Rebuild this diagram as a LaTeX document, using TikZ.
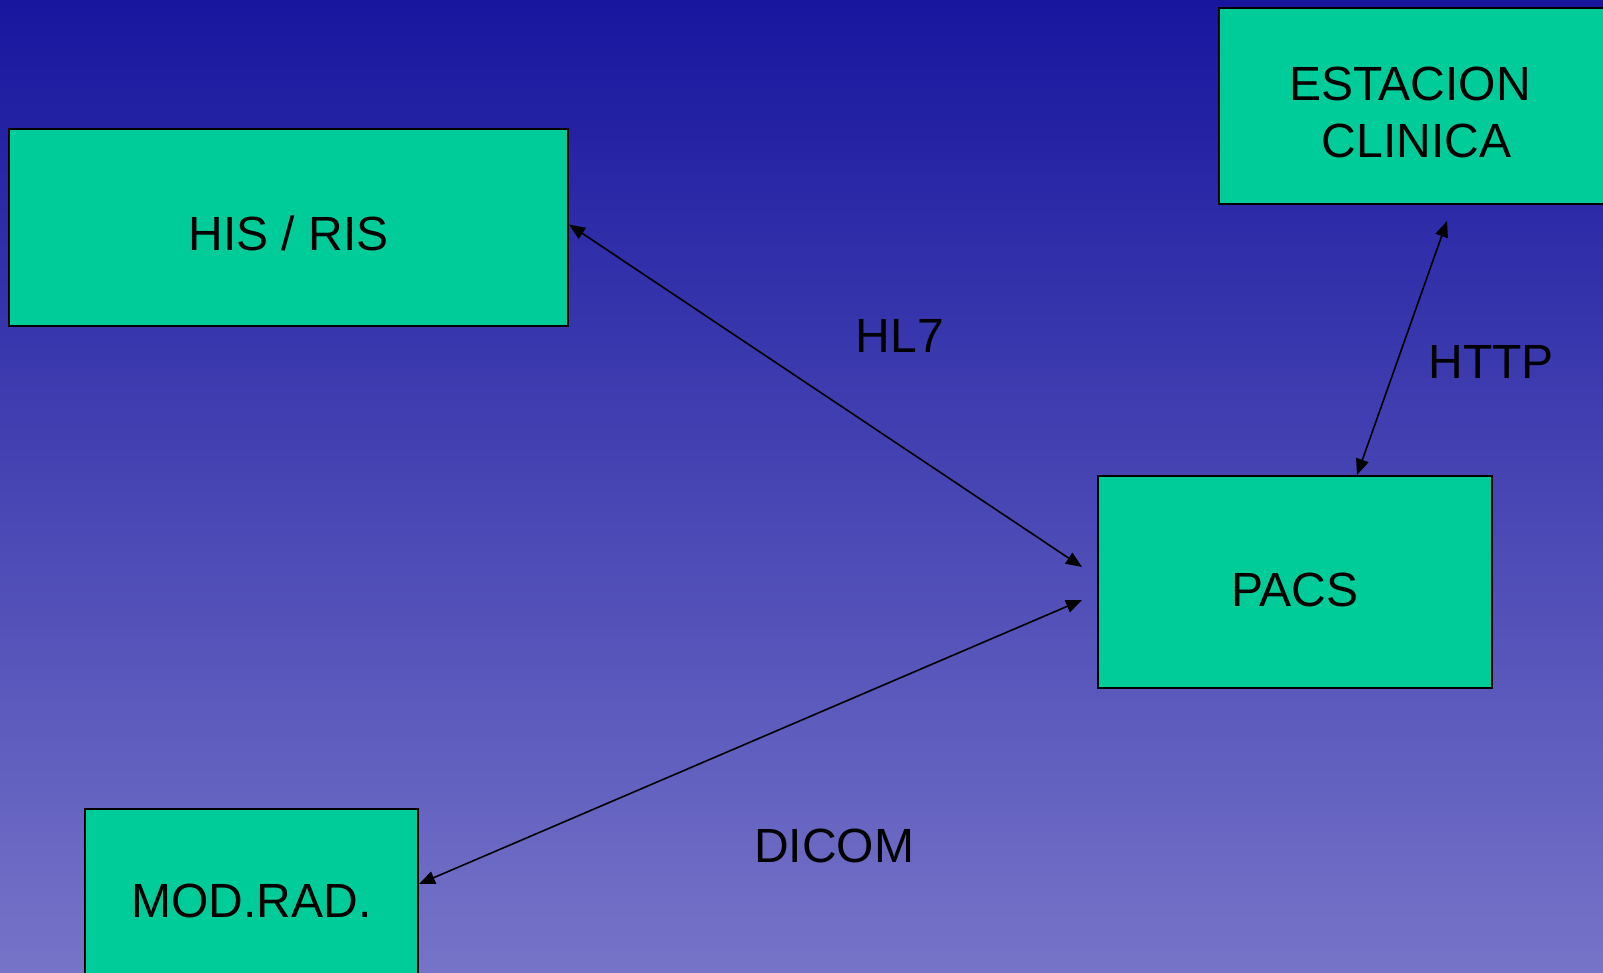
\documentclass[tikz,border=0pt]{standalone}
\usepackage{fontspec}
\setmainfont{Liberation Sans}
\usetikzlibrary{arrows.meta,calc}
\definecolor{bgtop}{RGB}{24,22,158}
\definecolor{bgbot}{RGB}{118,116,200}
\definecolor{boxfill}{RGB}{0,204,153}
\tikzset{
  sysbox/.style={draw=black, line width=1pt, fill=boxfill, inner sep=0pt, align=center,
    font=\fontsize{24}{28.5}\selectfont, text=black, text depth=0pt},
  link/.style={line width=0.8pt, draw=black, {Triangle[length=8pt,width=6.5pt]}-{Triangle[length=8pt,width=6.5pt]}},
  lbl/.style={font=\fontsize{24}{28}\selectfont, text=black, inner sep=0pt}
}
\begin{document}
\begin{tikzpicture}[x=0.5pt,y=-0.5pt]
\useasboundingbox (0,0) rectangle (1603,973);
\clip (0,0) rectangle (1603,973);
\shade[top color=bgtop, bottom color=bgbot] (0,0) rectangle (1603,973);
\node[sysbox, minimum width=559*0.5pt, minimum height=197*0.5pt, text height=22.8pt] (his) at (288.5,227.5) {HIS / RIS};
\node[sysbox, minimum width=431*0.5pt, minimum height=196*0.5pt] (est) at (1434.5,106) {};
\node[lbl, align=center, font=\fontsize{24}{28.5}\selectfont] (esttxt) at (1410,112.5) {ESTACION\\~CLINICA};
\node[sysbox, minimum width=394*0.5pt, minimum height=212*0.5pt, text height=24.2pt] (pacs) at (1295,582) {PACS};
\node[sysbox, minimum width=333*0.5pt, minimum height=182*0.5pt, text height=17.2pt] (mod) at (251.5,900) {MOD.RAD.};
\coordinate (hlend) at ($(pacs.west)+(-15,-15)$);
\coordinate (dcend) at ($(pacs.west)+(-15,18)$);
\coordinate (htop) at ($(est.south)+(12.5,16)$);
\coordinate (hbot) at ($(pacs.north)+(62,0)$);
\coordinate (modend) at ($(mod.east)+(0,-16)$);
\coordinate (hisend) at ($(his.east)+(0,-3)$);
\draw[link] (hisend) -- (hlend);
\draw[link] (dcend) -- (modend);
\draw[link] (htop) -- (hbot);
\node[lbl] (hl7) at (900,336) {HL7};
\node[lbl] (http) at (1491,362) {HTTP};
\node[lbl] (dicom) at (834,846) {DICOM};
\end{tikzpicture}
\end{document}
